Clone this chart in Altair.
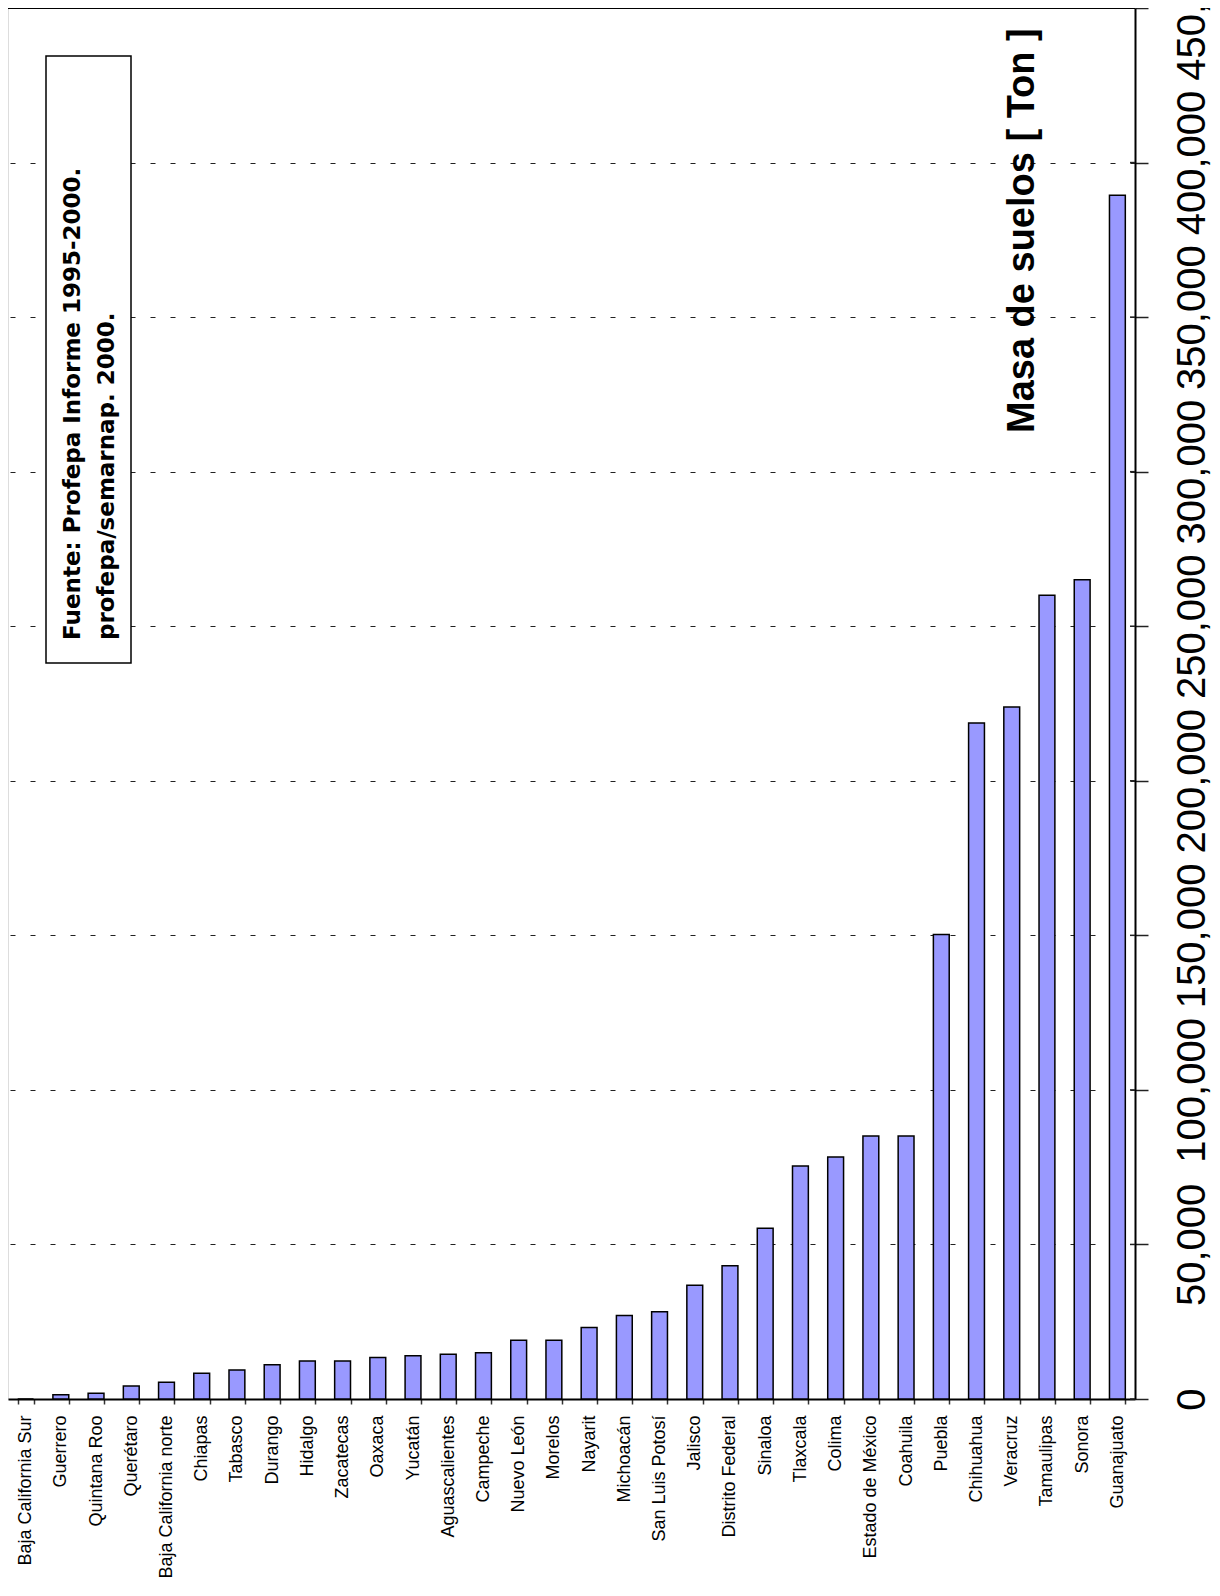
import altair as alt
import pandas as pd

estados = [
    "Baja California Sur", "Guerrero", "Quintana Roo", "Querétaro",
    "Baja California norte", "Chiapas", "Tabasco", "Durango", "Hidalgo",
    "Zacatecas", "Oaxaca", "Yucatán", "Aguascalientes", "Campeche",
    "Nuevo León", "Morelos", "Nayarit", "Michoacán", "San Luis Potosí",
    "Jalisco", "Distrito Federal", "Sinaloa", "Tlaxcala", "Colima",
    "Estado de México", "Coahuila", "Puebla", "Chihuahua", "Veracruz",
    "Tamaulipas", "Sonora", "Guanajuato",
]
masa = [
    0, 1400, 1900, 4200,
    5400, 8300, 9400, 11100, 12300,
    12300, 13400, 14000, 14500, 15000,
    19000, 19000, 23100, 27000, 28200,
    36800, 43100, 55200, 75400, 78300,
    85100, 85100, 150300, 218700, 223900,
    260000, 265000, 389400,
]
ticks_y = [0, 50000, 100000, 150000, 200000, 250000, 300000, 350000, 400000, 450000]

titulo = "Masa de suelos [ Ton ]"
fuente = "Fuente: Profepa Informe 1995-2000.\nprofepa/semarnap. 2000."

W, H = 1127, 1391
SANS = "Liberation Sans, Arial, sans-serif"

df = pd.DataFrame({"estado": estados, "masa": masa})
df_ticks = pd.DataFrame({"v": ticks_y})

yscale = alt.Scale(domain=[0, 450000], nice=False)

bars = alt.Chart(df).mark_bar(
    fill="#9999FF", stroke="black", strokeWidth=1.5
).encode(
    x=alt.X("estado:N", sort=estados, title=None,
            scale=alt.Scale(paddingInner=0.55, paddingOuter=0.275),
            axis=alt.Axis(labelAngle=270, labelFontSize=18, labelFont=SANS,
                          labelColor="black", labelPadding=11, tickSize=5,
                          tickColor="#333", tickWidth=1.5, tickBand="extent",
                          domainColor="black", domainWidth=2, grid=False,
                          labelLimit=400)),
    y=alt.Y("masa:Q", scale=yscale, title=None,
            axis=alt.Axis(orient="right", values=ticks_y, format=",d",
                          labelAngle=270, labelAlign="center", labelBaseline="top",
                          labelFontSize=40, labelFont=SANS,
                          labelColor="black", labelPadding=24, tickSize=13,
                          tickColor="#222", tickWidth=1.5, domainColor="black",
                          domainWidth=2, grid=True, gridColor="#222",
                          gridDash=[5, 15], gridWidth=1.2, labelOverlap=False,
                          labelFlush=False)),
)

inner_ticks = alt.Chart(df_ticks).mark_rule(color="#222", strokeWidth=1.5).encode(
    y=alt.Y("v:Q", scale=yscale),
    x=alt.value(W - 5),
    x2=alt.value(W),
)

top_border = alt.Chart(df_ticks.head(1)).mark_rule(color="black", strokeWidth=2).encode(
    x=alt.value(0), x2=alt.value(W), y=alt.value(0)
)

one = pd.DataFrame({"t": [fuente]})
box = alt.Chart(one).mark_rect(fill="white", stroke="black", strokeWidth=1.5).encode(
    x=alt.value(38), x2=alt.value(123), y=alt.value(48), y2=alt.value(655)
)
box_text = alt.Chart(one).mark_text(
    angle=270, align="left", baseline="alphabetic", fontSize=23,
    fontWeight="bold", font="DejaVu Sans, Verdana, sans-serif",
    lineBreak="\n", lineHeight=34, color="black"
).encode(
    x=alt.value(72), y=alt.value(632), text="t:N"
)

title_df = pd.DataFrame({"t": [titulo]})
title_text = alt.Chart(title_df).mark_text(
    angle=270, align="left", baseline="alphabetic", fontSize=38,
    fontWeight="bold", font=SANS, color="black"
).encode(
    x=alt.value(1026), y=alt.value(425), text="t:N"
)

chart = alt.layer(bars, inner_ticks, top_border, box, box_text, title_text).properties(
    width=W, height=H,
    autosize=alt.AutoSizeParams(type="none"),
    padding={"left": 0, "top": 0, "right": 77, "bottom": 182},
).configure_view(
    stroke="black", strokeWidth=2
).configure(background="white")

chart.save("out.html", embed_options={"renderer": "svg", "actions": False})
